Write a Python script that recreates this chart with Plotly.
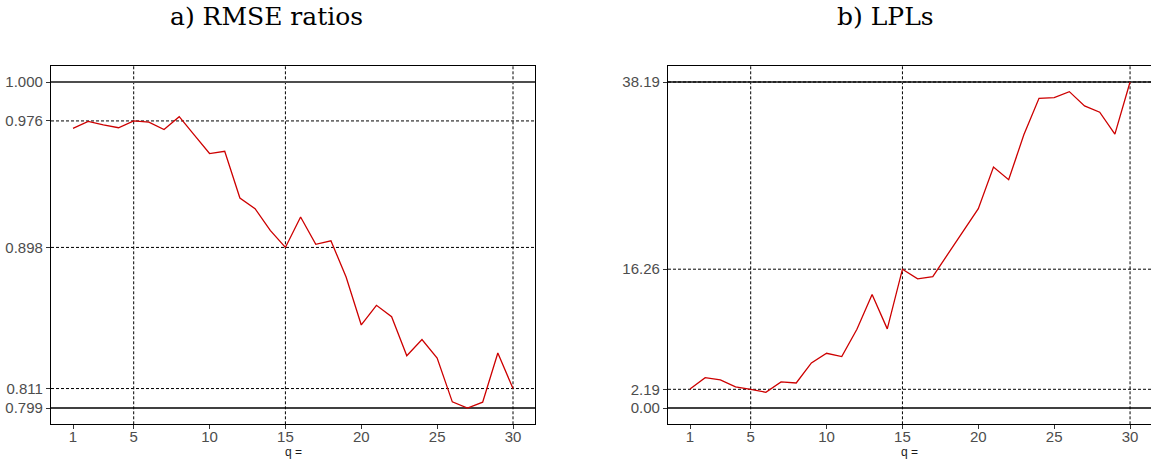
import plotly.graph_objects as go

# ---------------- data ----------------
q = [1, 2, 3, 4, 5, 6, 7, 8, 9, 10, 11, 12, 13, 14, 15,
     16, 17, 18, 19, 20, 21, 22, 23, 24, 25, 26, 27, 28, 29, 30]

rmse_ratio = [0.9714, 0.9757, 0.9736, 0.9718, 0.976, 0.9753, 0.9707, 0.9786, 0.9672, 0.9559,
              0.9573, 0.9285, 0.9219, 0.9085, 0.898, 0.9168, 0.8999, 0.9021, 0.8798, 0.8502,
              0.8623, 0.8553, 0.8312, 0.8412, 0.8298, 0.8028, 0.799, 0.8026, 0.8329, 0.811]

lpl = [2.23, 3.56, 3.29, 2.47, 2.19, 1.84, 3.05, 2.93, 5.28, 6.41,
       6.02, 9.23, 13.29, 9.27, 16.26, 15.13, 15.40, 18.05, 20.71, 23.35,
       28.22, 26.74, 32.00, 36.28, 36.36, 37.06, 35.39, 34.65, 32.08, 38.19]

x_ticks = [1, 5, 10, 15, 20, 25, 30]
grid_q = [5, 15, 30]

rmse_ticks = [0.799, 0.811, 0.898, 0.976, 1.000]
rmse_grid = [0.976, 0.898, 0.811]
rmse_ref_top = 1.000
rmse_ref_bottom = 0.799

lpl_ticks = [0.00, 2.19, 16.26, 38.19]
lpl_grid = [38.19, 16.26, 2.19]
lpl_ref_top = 38.19
lpl_ref_bottom = 0.00

titles = ["a) RMSE ratios", "b) LPLs"]
x_title = "q ="

# ---------------- figure ----------------
W, H = 1151, 459
RED = "#CD0000"
TICK_FONT = dict(family="Liberation Sans, Arial, sans-serif", size=15, color="#4D4D4D")
DASH = "3px,2px"

fig = go.Figure()
fig.add_trace(go.Scatter(x=q, y=rmse_ratio, mode="lines",
                         line=dict(color=RED, width=1.3), xaxis="x", yaxis="y",
                         showlegend=False, hoverinfo="x+y"))
fig.add_trace(go.Scatter(x=q, y=lpl, mode="lines",
                         line=dict(color=RED, width=1.3), xaxis="x2", yaxis="y2",
                         showlegend=False, hoverinfo="x+y"))

ydom = [1 - 424.3 / H, 1 - 65.7 / H]
common_x = dict(tickvals=x_ticks, ticktext=[str(v) for v in x_ticks],
                showgrid=False, zeroline=False, showline=True, linecolor="black",
                linewidth=1.3, ticks="outside", ticklen=4, tickwidth=1,
                tickcolor="#333333", tickfont=TICK_FONT, ticklabelstandoff=-5)
common_y = dict(showgrid=False, zeroline=False, showline=True, linecolor="black",
                linewidth=1.3, ticks="outside", ticklen=4, tickwidth=1,
                tickcolor="#333333", tickfont=TICK_FONT, domain=ydom)

fig.update_layout(
    width=W, height=H,
    margin=dict(l=0, r=0, t=0, b=0),
    paper_bgcolor="white", plot_bgcolor="white",
    xaxis=dict(domain=[51 / W, 535 / W], range=[-0.45, 31.45], mirror=True,
               anchor="y", **common_x),
    yaxis=dict(range=[0.78895, 1.01005], tickvals=rmse_ticks,
               ticktext=[f"{v:.3f}" for v in rmse_ticks], mirror=True,
               anchor="x", **common_y),
    xaxis2=dict(domain=[668 / W, 1.0], range=[-0.45, 31.38], mirror=True,
                anchor="y2", **common_x),
    yaxis2=dict(range=[-1.9095, 40.0995], tickvals=lpl_ticks,
                ticktext=[f"{v:.2f}" for v in lpl_ticks], mirror=False,
                anchor="x2", **common_y),
)

shapes = []
for xr, yr, grid_y, top, bottom in [("x", "y", rmse_grid, rmse_ref_top, rmse_ref_bottom),
                                    ("x2", "y2", lpl_grid, lpl_ref_top, lpl_ref_bottom)]:
    for gq in grid_q:
        shapes.append(dict(type="line", xref=xr, yref=f"{yr} domain", x0=gq, x1=gq, y0=0, y1=1,
                           line=dict(color="black", width=1, dash=DASH), layer="below"))
    shapes.append(dict(type="line", xref=f"{xr} domain", yref=yr, x0=0, x1=1, y0=top, y1=top,
                       line=dict(color="#4D4D4D", width=2), layer="below"))
    shapes.append(dict(type="line", xref=f"{xr} domain", yref=yr, x0=0, x1=1, y0=bottom, y1=bottom,
                       line=dict(color="black", width=1.5), layer="below"))
    for gy in grid_y:
        shapes.append(dict(type="line", xref=f"{xr} domain", yref=yr, x0=0, x1=1, y0=gy, y1=gy,
                           line=dict(color="black", width=1, dash=DASH), layer="below"))
fig.update_layout(shapes=shapes)

TITLE_FONT = dict(family="DejaVu Serif, serif", size=25, color="black")
annotations = [
    dict(text=titles[0], x=266.5 / W, y=1 - 17 / H, xref="paper", yref="paper",
         showarrow=False, xanchor="center", yanchor="middle", font=TITLE_FONT),
    dict(text=titles[1], x=885 / W, y=1 - 17 / H, xref="paper", yref="paper",
         showarrow=False, xanchor="center", yanchor="middle", font=TITLE_FONT),
    dict(text=x_title, x=0.5, y=1 - 452 / H, xref="x domain", yref="paper",
         showarrow=False, xanchor="center", yanchor="middle",
         font=dict(family="Liberation Sans, Arial, sans-serif", size=12, color="#1A1A1A")),
    dict(text=x_title, x=0.5, y=1 - 452 / H, xref="x2 domain", yref="paper",
         showarrow=False, xanchor="center", yanchor="middle",
         font=dict(family="Liberation Sans, Arial, sans-serif", size=12, color="#1A1A1A")),
]
fig.update_layout(annotations=annotations)

fig.write_html("out.html")
